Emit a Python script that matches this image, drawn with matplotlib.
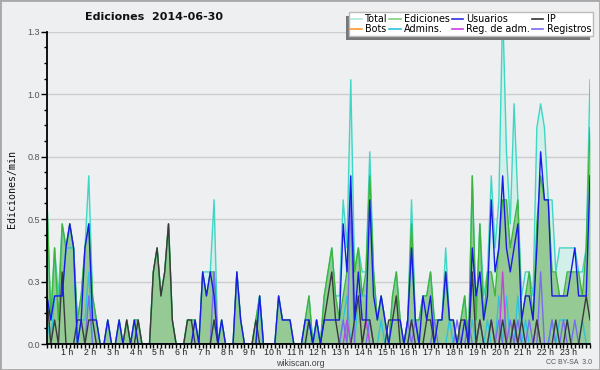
import matplotlib
matplotlib.use('Agg')
import matplotlib.pyplot as plt
from matplotlib.lines import Line2D
from matplotlib.patches import Rectangle
from matplotlib.transforms import ScaledTranslation, IdentityTransform
import numpy as np

# ---------------- data (10-minute buckets, edits per minute) ----------------
HOURS = list(range(1, 24))
HOUR_LABELS = [f"{h} h" for h in HOURS]
Y_TICKS = [0.0, 0.26, 0.52, 0.78, 1.04, 1.3]
Y_LABELS = ['0.0', '0.3', '0.5', '0.8', '1.0', '1.3']

TOTAL = [
    0.6, 0.1, 0.4, 0.2, 0.5, 0.4, 0.5, 0.4, 0.1, 0.2, 0.4, 0.7,
    0.2, 0.1, 0, 0, 0.1, 0, 0, 0.1, 0, 0.1, 0, 0.1,
    0.1, 0, 0, 0, 0.3, 0.4, 0.2, 0.3, 0.5, 0.1, 0, 0,
    0, 0.1, 0.1, 0.1, 0, 0.3, 0.3, 0.3, 0.6, 0, 0.1, 0,
    0, 0, 0.3, 0.1, 0, 0, 0, 0.1, 0.2, 0, 0, 0,
    0, 0.2, 0.1, 0.1, 0.1, 0, 0, 0, 0.1, 0.2, 0, 0.1,
    0, 0.2, 0.3, 0.4, 0.2, 0.2, 0.6, 0.4, 1.1, 0.3, 0.4, 0.3,
    0.3, 0.8, 0.3, 0.1, 0.2, 0.1, 0, 0.2, 0.3, 0.1, 0, 0.1,
    0.6, 0.1, 0.1, 0.2, 0.2, 0.3, 0.1, 0.1, 0.1, 0.4, 0.1, 0.1,
    0, 0.1, 0.2, 0, 0.7, 0.1, 0.5, 0.2, 0.3, 0.7, 0.4, 0.6,
    1.4, 0.8, 0.5, 1.0, 0.6, 0.2, 0.3, 0.3, 0.2, 0.9, 1.0, 0.9,
    0.6, 0.6, 0.3, 0.4, 0.4, 0.4, 0.4, 0.4, 0.3, 0.3, 0.4, 1.1,
]

EDICIONES = [
    0.6, 0.1, 0.4, 0.1, 0.5, 0.4, 0.5, 0.4, 0.1, 0.2, 0.4, 0.5,
    0.2, 0.1, 0, 0, 0.1, 0, 0, 0.1, 0, 0.1, 0, 0.1,
    0.1, 0, 0, 0, 0.3, 0.4, 0.2, 0.3, 0.5, 0.1, 0, 0,
    0, 0.1, 0.1, 0.1, 0, 0.3, 0.2, 0.3, 0.3, 0, 0.1, 0,
    0, 0, 0.3, 0.1, 0, 0, 0, 0.1, 0.2, 0, 0, 0,
    0, 0.2, 0.1, 0.1, 0.1, 0, 0, 0, 0.1, 0.2, 0, 0.1,
    0, 0.2, 0.3, 0.4, 0.2, 0.1, 0.2, 0.3, 0.6, 0.3, 0.4, 0.2,
    0.3, 0.7, 0.3, 0.1, 0.2, 0.1, 0, 0.2, 0.3, 0.1, 0, 0.1,
    0.5, 0.1, 0.1, 0.2, 0.2, 0.3, 0.1, 0.1, 0.1, 0.3, 0.1, 0.1,
    0, 0.1, 0.2, 0, 0.7, 0.1, 0.5, 0.1, 0.3, 0.3, 0.2, 0.4,
    0.6, 0.6, 0.4, 0.5, 0.6, 0.1, 0.2, 0.3, 0.1, 0.5, 0.7, 0.6,
    0.6, 0.3, 0.3, 0.2, 0.2, 0.3, 0.3, 0.3, 0.3, 0.2, 0.4, 0.9,
]

USUARIOS = [
    0.2, 0.1, 0.2, 0.2, 0.2, 0.4, 0.5, 0.4, 0, 0.1, 0.4, 0.5,
    0.1, 0.1, 0, 0, 0.1, 0, 0, 0.1, 0, 0, 0, 0.1,
    0, 0, 0, 0, 0, 0, 0, 0, 0, 0, 0, 0,
    0, 0, 0, 0.1, 0, 0.3, 0.2, 0.3, 0.2, 0, 0.1, 0,
    0, 0, 0.3, 0.1, 0, 0, 0, 0, 0.2, 0, 0, 0,
    0, 0.2, 0.1, 0.1, 0.1, 0, 0, 0, 0.1, 0.1, 0, 0.1,
    0, 0.1, 0.1, 0.1, 0.1, 0.1, 0.5, 0.3, 0.7, 0.1, 0.3, 0.1,
    0.1, 0.6, 0.2, 0.1, 0.2, 0.1, 0, 0.1, 0.1, 0.1, 0, 0.1,
    0.4, 0.1, 0, 0.2, 0.1, 0.2, 0, 0.1, 0.1, 0.3, 0.1, 0.1,
    0, 0, 0.1, 0, 0.4, 0.2, 0.3, 0.1, 0.2, 0.6, 0.3, 0.4,
    0.7, 0.4, 0.3, 0.4, 0.5, 0.1, 0.2, 0.2, 0.1, 0.4, 0.8, 0.6,
    0.6, 0.2, 0.2, 0.2, 0.2, 0.2, 0.3, 0.4, 0.2, 0.2, 0.2, 0.7,
]

IP = [
    0.2, 0, 0.1, 0, 0.3, 0, 0, 0, 0.1, 0.1, 0, 0.1,
    0.1, 0, 0, 0, 0, 0, 0, 0, 0, 0.1, 0, 0,
    0.1, 0, 0, 0, 0.3, 0.4, 0.2, 0.3, 0.5, 0.1, 0, 0,
    0, 0.1, 0.1, 0, 0, 0, 0, 0, 0.1, 0, 0, 0,
    0, 0, 0, 0, 0, 0, 0, 0.1, 0, 0, 0, 0,
    0, 0, 0, 0, 0, 0, 0, 0, 0, 0.1, 0, 0,
    0, 0.1, 0.2, 0.3, 0.1, 0, 0, 0, 0, 0.1, 0.2, 0,
    0.1, 0.1, 0, 0, 0, 0, 0.1, 0.1, 0.2, 0, 0, 0,
    0.1, 0, 0, 0, 0.1, 0.1, 0, 0, 0, 0, 0, 0,
    0, 0.1, 0.1, 0, 0.3, 0, 0.1, 0, 0, 0.1, 0, 0,
    0.1, 0, 0, 0.1, 0, 0.1, 0, 0, 0, 0.1, 0, 0,
    0, 0, 0.1, 0, 0, 0.1, 0, 0, 0, 0.1, 0.2, 0.1,
]

BOTS = [0] * 144

ADMINS = [
    0.1, 0, 0.2, 0.2, 0.2, 0.4, 0.4, 0.4, 0, 0.1, 0.1, 0.3,
    0, 0, 0, 0, 0, 0, 0, 0, 0, 0, 0, 0,
    0, 0, 0, 0, 0, 0, 0, 0, 0, 0, 0, 0,
    0, 0, 0, 0, 0, 0, 0, 0, 0.1, 0, 0, 0,
    0, 0, 0, 0, 0, 0, 0, 0, 0.2, 0, 0, 0,
    0, 0, 0, 0, 0, 0, 0, 0, 0, 0.1, 0, 0.1,
    0, 0, 0, 0, 0, 0, 0.1, 0.2, 0, 0, 0.2, 0.2,
    0.2, 0, 0, 0, 0.1, 0, 0, 0, 0, 0, 0, 0,
    0.1, 0.1, 0, 0, 0, 0, 0, 0, 0, 0, 0.1, 0,
    0, 0, 0, 0, 0.1, 0, 0, 0, 0.1, 0, 0, 0.2,
    0, 0.2, 0, 0, 0.2, 0, 0.1, 0, 0, 0, 0, 0,
    0, 0.1, 0, 0.1, 0.1, 0.1, 0, 0, 0, 0.1, 0, 0,
]

REG_ADM = [
    0, 0, 0, 0, 0, 0, 0, 0, 0, 0, 0, 0,
    0, 0, 0, 0, 0, 0, 0, 0, 0, 0, 0, 0,
    0, 0, 0, 0, 0, 0, 0, 0, 0, 0, 0, 0,
    0, 0, 0, 0, 0, 0, 0, 0, 0, 0, 0, 0,
    0, 0, 0, 0, 0, 0, 0, 0, 0, 0, 0, 0,
    0, 0, 0, 0, 0, 0, 0, 0, 0, 0, 0, 0,
    0, 0, 0, 0, 0, 0, 0, 0.1, 0, 0, 0, 0,
    0.1, 0, 0, 0, 0, 0, 0, 0, 0, 0, 0, 0,
    0, 0, 0, 0, 0, 0, 0, 0, 0, 0, 0, 0,
    0, 0, 0, 0, 0, 0, 0, 0, 0, 0, 0, 0,
    0.3, 0, 0, 0.1, 0, 0, 0, 0, 0, 0.1, 0, 0,
    0, 0, 0, 0, 0, 0, 0, 0, 0, 0, 0, 0,
]

REGISTROS = [
    0, 0, 0, 0, 0, 0, 0, 0, 0, 0, 0, 0.2,
    0, 0, 0, 0, 0, 0, 0, 0, 0, 0, 0, 0,
    0, 0, 0, 0, 0, 0, 0, 0, 0, 0, 0, 0,
    0, 0, 0, 0, 0, 0, 0, 0, 0.3, 0, 0, 0,
    0, 0, 0, 0, 0, 0, 0, 0, 0, 0, 0, 0,
    0, 0, 0, 0, 0, 0, 0, 0, 0, 0, 0, 0,
    0, 0, 0, 0, 0, 0, 0.1, 0, 0.6, 0, 0, 0,
    0, 0.1, 0, 0, 0, 0, 0, 0, 0, 0, 0, 0.1,
    0, 0.1, 0, 0, 0, 0, 0.1, 0, 0, 0, 0, 0,
    0.1, 0, 0, 0.1, 0, 0, 0.1, 0, 0, 0.1, 0, 0.1,
    0, 0, 0.1, 0, 0.1, 0, 0, 0.1, 0, 0, 0.3, 0,
    0, 0.1, 0, 0, 0.1, 0, 0, 0.1, 0, 0, 0, 0,
]

# ---------------- figure ----------------
BG = '#eeeff0'
fig = plt.figure(figsize=(6, 3.7), dpi=100)
fig.patch.set_facecolor(BG)
ax = fig.add_axes([47 / 600, 26 / 370, 543 / 600, 312.3 / 370])
ax.set_facecolor(BG)

x = np.arange(len(EDICIONES))

ax.fill_between(x, 0, TOTAL, color='#d3efe9', lw=0, zorder=1.0)
ax.fill_between(x, 0, EDICIONES, color='#95ca95', lw=0, zorder=1.1)

lw = 1.0
ax.plot(x, BOTS, color='#ff9a30', lw=lw, zorder=1.2)
ax.plot(x, TOTAL, color='#3fd6c6', lw=lw, zorder=2.0)
ax.plot(x, EDICIONES, color='#3db53d', lw=lw, zorder=2.1)
ax.plot(x, ADMINS, color='#2ec4de', lw=lw, zorder=2.2)
ax.plot(x, REG_ADM, color='#c840e0', lw=lw, zorder=2.3)
ax.plot(x, REGISTROS, color='#7a6cf0', lw=lw, zorder=2.4)
ax.plot(x, IP, color='#3a3a3a', lw=lw, zorder=2.5)
ax.plot(x, USUARIOS, color='#1a1ae6', lw=lw, zorder=2.6)

ax.set_xlim(0, len(x) - 1)
ax.set_ylim(0, 1.3)

for s in ['top', 'right']:
    ax.spines[s].set_visible(False)
for s in ['left', 'bottom']:
    ax.spines[s].set_color('black')
    ax.spines[s].set_linewidth(1.3)
    ax.spines[s].set_zorder(3)

ax.set_yticks(Y_TICKS)
ax.set_yticklabels(Y_LABELS)
ax.set_yticks(np.arange(0, 1.3001, 0.065), minor=True)
ax.yaxis.grid(True, color='#cdcdcd', lw=1.0, zorder=0.5)
ax.set_axisbelow(True)
ax.tick_params(axis='y', which='major', length=4, width=1, color='black',
               labelsize=6.5, labelcolor='#555555', pad=1)
ax.tick_params(axis='y', which='minor', length=2.5, width=1, color='black')

ax.set_xticks([h * 6 for h in HOURS])
ax.set_xticklabels(HOUR_LABELS)
ax.set_xticks(x, minor=True)
ax.tick_params(axis='x', which='both', direction='out', length=3, width=1,
               color='black', labelsize=6.3, labelcolor='#222222', pad=0)
off = ScaledTranslation(-2.5 / 100, 0.5 / 100, fig.dpi_scale_trans)
for lab in ax.get_xticklabels():
    lab.set_transform(lab.get_transform() + off)
    lab.set_family('Liberation Sans')

for lab in ax.get_yticklabels():
    lab.set_family('Liberation Sans')

# texts
fig.text(154 / 600, 1 - 17 / 370, 'Ediciones  2014-06-30', ha='center', va='center',
         fontsize=8, fontweight='bold', family='DejaVu Sans', color='#111111')
fig.text(12 / 600, 1 - 189 / 370, 'Ediciones/min', rotation=90, ha='center', va='center',
         fontsize=7.2, family='DejaVu Sans Mono', color='#111111')
fig.text(300 / 600, 1 - 363.5 / 370, 'wikiscan.org', ha='center', va='center',
         fontsize=6.3, family='Liberation Sans', color='#444444')
fig.text(569 / 600, 1 - 363 / 370, 'CC BY-SA  3.0', ha='center', va='center',
         fontsize=5, family='Liberation Sans', color='#555555')

# legend
leg_labels = ['Total', 'Bots', 'Ediciones', 'Admins.', 'Usuarios', 'Reg. de adm.', 'IP', 'Registros']
leg_colors = ['#aee6dc', '#ff9a30', '#80cf80', '#2ec4de', '#3030e0', '#c840e0', '#333333', '#7a6cf0']
handles = [Line2D([], [], color=c, lw=1.2) for c in leg_colors]
leg = fig.legend(handles, leg_labels, ncol=4, loc='upper right',
                 bbox_to_anchor=(593 / 600, 1 - 12 / 370), bbox_transform=fig.transFigure,
                 prop={'family': 'DejaVu Sans', 'size': 6.9}, frameon=True, fancybox=False,
                 edgecolor='#bbbbbb', facecolor='white', framealpha=1, borderpad=0.2,
                 labelspacing=0.05, columnspacing=0.15, handlelength=1.2, handletextpad=0.35,
                 borderaxespad=0)
leg.get_frame().set_linewidth(1.0)
leg.set_zorder(6)

fig.canvas.draw()
bb = leg.get_window_extent()
shadow = Rectangle((bb.x0 - 3, bb.y0 - 4), bb.width, bb.height, transform=IdentityTransform(),
                   facecolor='#777777', edgecolor='none', zorder=5.5)
fig.add_artist(shadow)

fig.add_artist(Rectangle((0, 0), 1, 1, transform=fig.transFigure, fill=False,
                         edgecolor='#a8a8a8', lw=2, zorder=10))

fig.savefig('out.png', dpi=100, facecolor=BG)
